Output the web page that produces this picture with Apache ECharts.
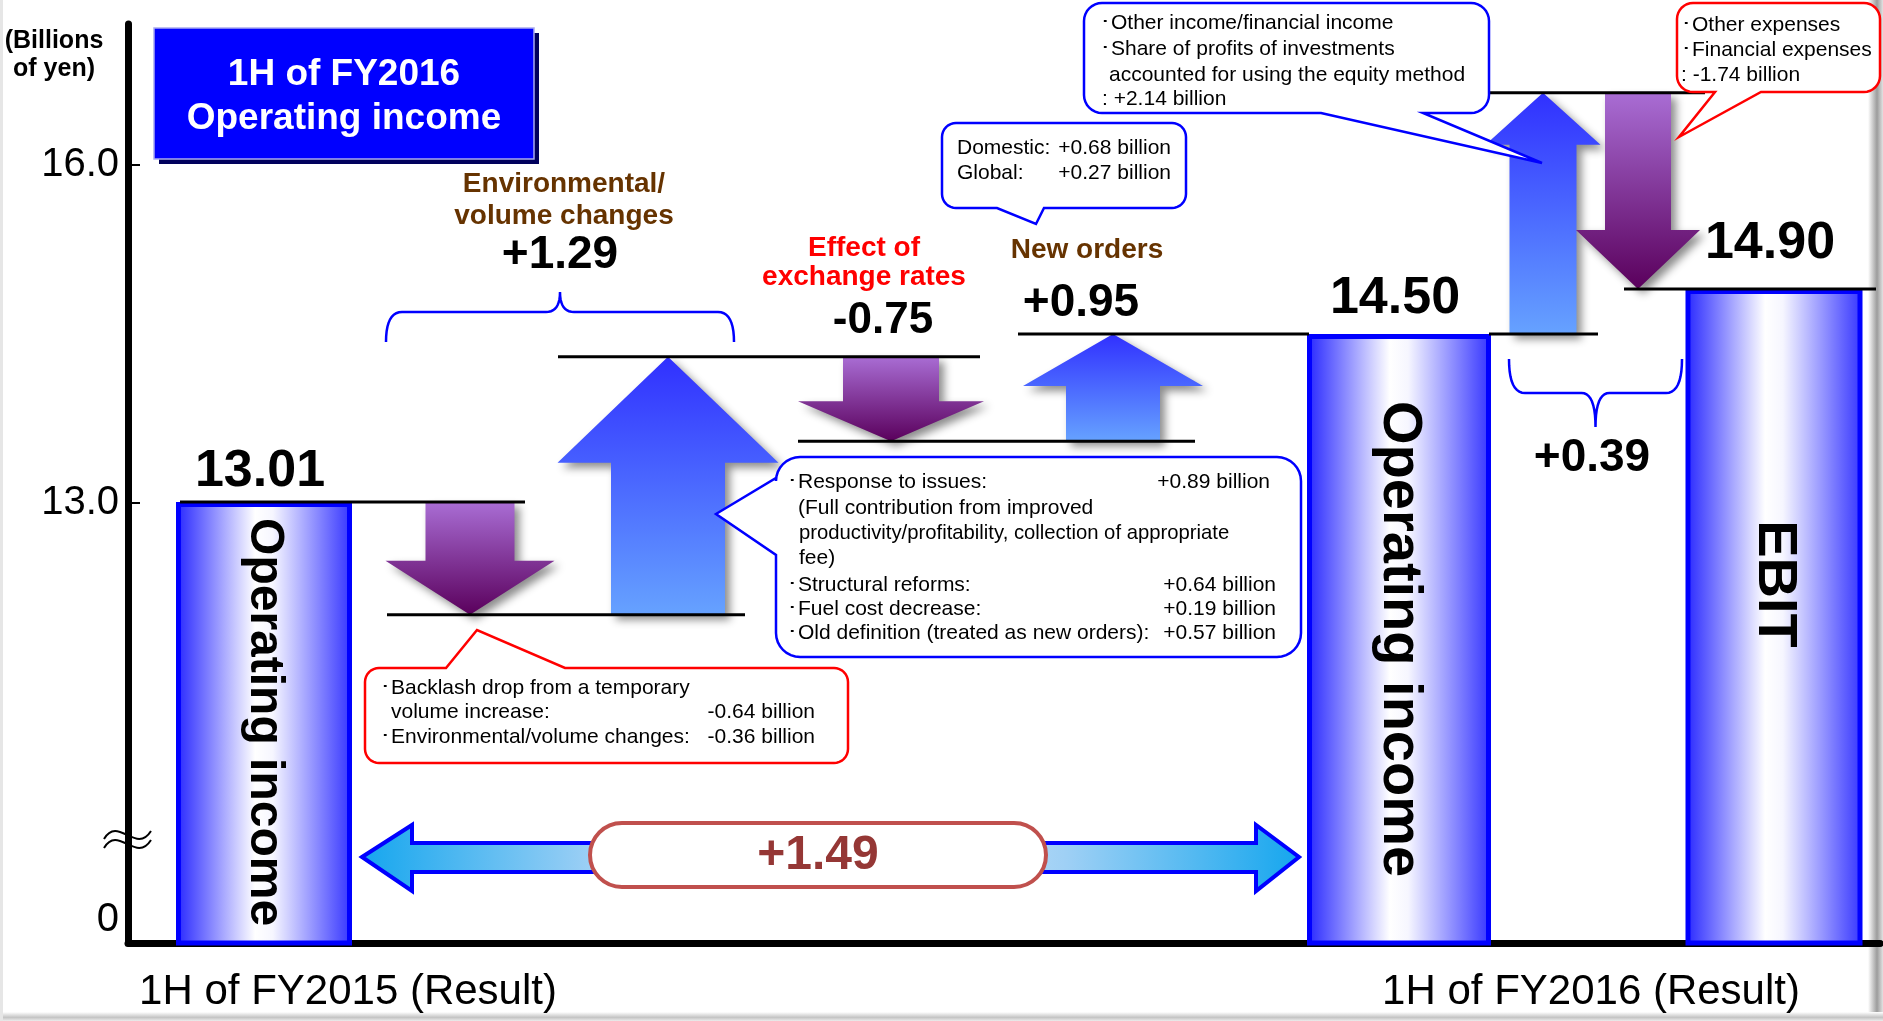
<!DOCTYPE html>
<html>
<head>
<meta charset="utf-8">
<title>1H of FY2016 Operating income</title>
<script src="https://cdn.jsdelivr.net/npm/echarts@6/dist/echarts.min.js"></script>
<style>
  html, body { margin: 0; padding: 0; background: #ffffff; }
  #chart { width: 1883px; height: 1021px; }
</style>
</head>
<body>
<div id="chart"></div>
<script>
// ---------- Data (billions of yen) ----------
const periodLabels = ['1H of FY2015 (Result)', '1H of FY2016 (Result)'];
const totalNames = ['Operating income', 'Operating income', 'EBIT'];
const totalValues = [13.01, 14.50, 14.90];
const backlashItems = [-0.64, -0.36];            // backlash drop, environmental/volume changes
const responseItems = [0.89, 0.64, 0.19, 0.57];  // response to issues, structural reforms, fuel cost, old definition
const exchangeRateItems = [-0.75];
const newOrderItems = [0.68, 0.27];              // domestic, global
const nonOperatingItems = [2.14, -1.74];         // other income, other expenses
const ebitChangeLabel = 0.39;
const yTickValues = [13.0, 16.0];

// ---------- Derived waterfall steps ----------
const sum = a => a.reduce((s, v) => s + v, 0);
const r2 = v => Math.round(v * 100) / 100;
const stepValues = [sum(backlashItems), sum(responseItems), sum(exchangeRateItems),
                    sum(newOrderItems), nonOperatingItems[0], nonOperatingItems[1]];
const levels = [totalValues[0]];
stepValues.forEach(v => levels.push(r2(levels[levels.length - 1] + v)));

// ---------- Layout (horizontal layout axis, 1 unit = 1 px inside the plot) ----------
const X_MAX = 1752;
const Y_MIN = 9.1, Y_MAX = 17.25;
const axisZeroAt = 9.3;                 // broken axis: "0" is printed just above the baseline
const totalSlot = [136, 1271, 1646];
const totalWidth = [176, 184, 177];
const totalTextOffset = [220, 305, 295];
const totalTextSize = [48, 56, 56];
const totalValueOffset = [-30, -35, -45];
const stepSlot = [342, 540, 763, 985, 1415, 1510];
const headW = [169, 221, 186, 180, 115, 124];
const shaftW = [89, 114, 96, 94, 67, 66];
const headH = [54, 106, 40, 52, 52, 59];
const connectorSpan = [[52, 397], [259, 617], [430, 852], [670, 1067], [890, 1181], [1361, 1470], [1358, 1577], [1496, 1748]];
const connectorLevel = [0, 1, 2, 3, 4, 4, 5, 6];
const periodSlot = [220, 1463];

const FF = "'Liberation Sans', Arial, Helvetica, sans-serif";
const fmtSigned = v => (v > 0 ? '+' : '') + v.toFixed(2);
const fmtBillion = v => fmtSigned(v) + ' billion';
const LG = echarts.graphic.LinearGradient;

// ---------- Annotation helpers ----------
function calloutPoints(x, y, w, h, r, side, ptr) {
  const pts = [];
  const arc = (cx, cy, a0, a1) => {
    for (let k = 0; k <= 8; k++) {
      const a = a0 + (a1 - a0) * k / 8;
      pts.push([cx + r * Math.cos(a), cy + r * Math.sin(a)]);
    }
  };
  arc(x + r, y + r, Math.PI, 1.5 * Math.PI);
  if (side === 'top') pts.push(...ptr);
  arc(x + w - r, y + r, -0.5 * Math.PI, 0);
  if (side === 'right') pts.push(...ptr);
  arc(x + w - r, y + h - r, 0, 0.5 * Math.PI);
  if (side === 'bottom') pts.push(...ptr);
  arc(x + r, y + h - r, 0.5 * Math.PI, Math.PI);
  if (side === 'left') pts.push(...ptr);
  return pts;
}
function callout(x, y, w, h, r, side, ptr, color) {
  return {
    type: 'polygon', z: 100,
    shape: { points: calloutPoints(x, y, w, h, r, side, ptr) },
    style: { fill: '#ffffff', stroke: color, lineWidth: 2.5 }
  };
}
function quad(p0, c, p1, n, out) {
  for (let k = 1; k <= n; k++) {
    const t = k / n, u = 1 - t;
    out.push([u * u * p0[0] + 2 * u * t * c[0] + t * t * p1[0], u * u * p0[1] + 2 * u * t * c[1] + t * t * p1[1]]);
  }
}
// Curly brace: ends at yEnd, bar at yBar, tip at yTip
function brace(x1, x2, yEnd, yBar, yTip, color) {
  const xm = (x1 + x2) / 2, rr = 16, tr = 14;
  const pts = [[x1, yEnd]];
  quad([x1, yEnd], [x1, yBar], [x1 + rr, yBar], 10, pts);
  pts.push([xm - tr, yBar]);
  quad([xm - tr, yBar], [xm, yBar], [xm, yTip], 10, pts);
  quad([xm, yTip], [xm, yBar], [xm + tr, yBar], 10, pts);
  pts.push([x2 - rr, yBar]);
  quad([x2 - rr, yBar], [x2, yBar], [x2, yEnd], 10, pts);
  return { type: 'polyline', z: 50, shape: { points: pts }, style: { stroke: color, lineWidth: 2.5, fill: null } };
}
function txt(x, y, text, o) {
  return {
    type: 'text', x: x, y: y, z: o.z || 110,
    style: {
      text: text, fill: o.color || '#000', fontFamily: FF,
      fontSize: o.size || 21, fontWeight: o.weight || 'normal',
      align: o.align || 'left', verticalAlign: 'middle', lineHeight: o.lh
    }
  };
}
const B = '\uFF65';

// ---------- Annotation elements ----------
const graphics = [
  // page edge shading
  { type: 'rect', z: 0, shape: { x: 1868, y: 0, width: 15, height: 1021 },
    style: { fill: new LG(0, 0, 1, 0, [{ offset: 0, color: '#ffffff' }, { offset: 0.6, color: '#9c9c9c' }, { offset: 1, color: '#e2e2e2' }]) } },
  { type: 'rect', z: 0, shape: { x: 0, y: 1012, width: 1883, height: 9 },
    style: { fill: new LG(0, 0, 0, 1, [{ offset: 0, color: '#ffffff' }, { offset: 0.6, color: '#c4c4c4' }, { offset: 1, color: '#ececec' }]) } },
  { type: 'rect', z: 0, shape: { x: 0, y: 0, width: 3, height: 1021 }, style: { fill: '#e6e6e6' } },

  // unit label
  txt(54, 55, '(Billions\nof yen)', { size: 25, weight: 'bold', align: 'center', lh: 28 }),

  // title box
  { type: 'rect', z: 20, shape: { x: 159, y: 33, width: 380, height: 131 }, style: { fill: '#00005c' } },
  { type: 'rect', z: 21, shape: { x: 154, y: 28, width: 380, height: 131 }, style: { fill: '#0000ff', stroke: '#a9abf0', lineWidth: 1.5 } },
  txt(344, 97, '1H of FY2016\nOperating income', { size: 37, weight: 'bold', color: '#ffffff', align: 'center', lh: 44, z: 22 }),

  // step headings and values
  txt(564, 200, 'Environmental/\nvolume changes', { size: 28, weight: 'bold', color: '#663300', align: 'center', lh: 32 }),
  txt(560, 255, fmtSigned(r2(stepValues[0] + stepValues[1])), { size: 46, weight: 'bold', align: 'center' }),
  txt(864, 263, 'Effect of\nexchange rates', { size: 28, weight: 'bold', color: '#ff0000', align: 'center', lh: 29 }),
  txt(883, 321, fmtSigned(stepValues[2]), { size: 44, weight: 'bold', align: 'center' }),
  txt(1087, 250, 'New orders', { size: 28, weight: 'bold', color: '#663300', align: 'center' }),
  txt(1081, 303, fmtSigned(r2(stepValues[3])), { size: 46, weight: 'bold', align: 'center' }),
  txt(1592, 458, fmtSigned(ebitChangeLabel), { size: 46, weight: 'bold', align: 'center' }),

  // braces
  brace(386, 734, 342, 312, 292, '#0000ff'),
  brace(1509, 1682, 359, 393, 427, '#0000ff'),

  // broken-axis mark
  { type: 'bezierCurve', z: 60, shape: { x1: 104, y1: 839, cpx1: 118, cpy1: 815, cpx2: 136, cpy2: 855, x2: 151, y2: 831 },
    style: { stroke: '#000', lineWidth: 2, fill: null } },
  { type: 'bezierCurve', z: 60, shape: { x1: 104, y1: 848, cpx1: 118, cpy1: 824, cpx2: 136, cpy2: 864, x2: 151, y2: 840 },
    style: { stroke: '#000', lineWidth: 2, fill: null } },

  // change between the two operating income totals
  { type: 'polygon', z: 60,
    shape: { points: [[362, 857], [412, 825], [412, 843], [1256, 843], [1256, 825], [1299, 857], [1256, 891], [1256, 872], [412, 872], [412, 891]] },
    style: { stroke: '#0000ff', lineWidth: 4,
      fill: new LG(0, 0, 1, 0, [{ offset: 0, color: '#14a6ee' }, { offset: 0.25, color: '#9fd0f5' }, { offset: 0.5, color: '#eaf4fd' },
                                { offset: 0.75, color: '#9fd0f5' }, { offset: 1, color: '#14a6ee' }]) } },
  { type: 'rect', z: 61, shape: { x: 590, y: 823, width: 456, height: 64, r: 32 },
    style: { fill: '#ffffff', stroke: '#c0504d', lineWidth: 4 } },
  txt(818, 856, fmtSigned(r2(totalValues[1] - totalValues[0])), { size: 48, weight: 'bold', color: '#953735', align: 'center', z: 62 }),

  // callout: backlash / environmental
  callout(365, 668, 483, 95, 14, 'top', [[446, 668], [477, 630], [565, 668]], '#ff0000'),
  txt(380, 688, B + 'Backlash drop from a temporary', {}),
  txt(391, 712, 'volume increase:', {}),
  txt(815, 712, fmtBillion(backlashItems[0]), { align: 'right' }),
  txt(380, 737, B + 'Environmental/volume changes:', {}),
  txt(815, 737, fmtBillion(backlashItems[1]), { align: 'right' }),

  // callout: improvements
  callout(776, 457, 525, 200, 24, 'left', [[776, 555], [716, 514], [776, 478]], '#0000ff'),
  txt(787, 482, B + 'Response to issues:', {}),
  txt(1270, 482, fmtBillion(responseItems[0]), { align: 'right' }),
  txt(798, 508, '(Full contribution from improved', {}),
  txt(799, 533, 'productivity/profitability, collection of appropriate', { size: 20.3 }),
  txt(799, 558, 'fee)', {}),
  txt(787, 585, B + 'Structural reforms:', {}),
  txt(1276, 585, fmtBillion(responseItems[1]), { align: 'right' }),
  txt(787, 609, B + 'Fuel cost decrease:', {}),
  txt(1276, 609, fmtBillion(responseItems[2]), { align: 'right' }),
  txt(787, 633, B + 'Old definition (treated as new orders):', {}),
  txt(1276, 633, fmtBillion(responseItems[3]), { align: 'right' }),

  // callout: new orders split
  callout(942, 123, 244, 85, 14, 'bottom', [[1044, 208], [1036, 224], [997, 208]], '#0000ff'),
  txt(957, 148, 'Domestic:', {}),
  txt(1171, 148, fmtBillion(newOrderItems[0]), { align: 'right' }),
  txt(957, 173, 'Global:', {}),
  txt(1171, 173, fmtBillion(newOrderItems[1]), { align: 'right' }),

  // callout: other income
  callout(1084, 3, 405, 110, 18, 'bottom', [[1423, 113], [1542, 163], [1321, 113]], '#0000ff'),
  txt(1100, 23, B + 'Other income/financial income', {}),
  txt(1100, 49, B + 'Share of profits of investments', {}),
  txt(1109, 75, 'accounted for using the equity method', {}),
  txt(1102, 99, ': ' + fmtBillion(nonOperatingItems[0]), {}),

  // callout: other expenses
  callout(1677, 3, 203, 89, 16, 'bottom', [[1761, 92], [1679, 137], [1715, 92]], '#ff0000'),
  txt(1681, 25, B + 'Other expenses', {}),
  txt(1681, 50, B + 'Financial expenses', {}),
  txt(1681, 75, ': ' + fmtBillion(nonOperatingItems[1]), {})
];

// ---------- Series ----------
const barFill = () => new LG(0, 0, 1, 0, [
  { offset: 0, color: '#2626ff' }, { offset: 0.45, color: '#ffffff' },
  { offset: 0.55, color: '#f6f6ff' }, { offset: 1, color: '#3434ff' }
]);
const arrowShadow = { shadowBlur: 8, shadowOffsetX: 5, shadowOffsetY: 5, shadowColor: 'rgba(0,0,0,0.45)' };

const totalsSeries = {
  type: 'custom', name: 'Totals', z: 3,
  data: totalValues.map((v, i) => [totalSlot[i], v, i]),
  encode: { x: 0, y: 1 },
  renderItem(params, api) {
    const i = api.value(2), v = api.value(1);
    const top = api.coord([api.value(0), v]);
    const base = api.coord([api.value(0), Y_MIN]);
    const w = totalWidth[i] - 5;
    return {
      type: 'group',
      children: [
        { type: 'rect', shape: { x: top[0] - w / 2, y: top[1] + 2.5, width: w, height: base[1] - top[1] - 2.5 },
          style: { fill: barFill(), stroke: '#0000ff', lineWidth: 5 } },
        { type: 'text', x: top[0], y: top[1] + totalTextOffset[i], rotation: -Math.PI / 2,
          style: { text: totalNames[i], fontFamily: FF, fontSize: totalTextSize[i], fontWeight: 'bold', fill: '#000',
                   align: 'center', verticalAlign: 'middle' } },
        { type: 'text', x: top[0] - 4, y: top[1] + totalValueOffset[i],
          style: { text: v.toFixed(2), fontFamily: FF, fontSize: 52, fontWeight: 'bold', fill: '#000',
                   align: 'center', verticalAlign: 'middle' } }
      ]
    };
  }
};

const stepsSeries = {
  type: 'custom', name: 'Changes', z: 3,
  data: stepValues.map((v, i) => [stepSlot[i], levels[i], levels[i + 1], i]),
  encode: { x: 0, y: [1, 2] },
  renderItem(params, api) {
    const i = api.value(3);
    const p0 = api.coord([api.value(0), api.value(1)]);
    const p1 = api.coord([api.value(0), api.value(2)]);
    const cx = p0[0], yS = p0[1], yT = p1[1];
    const up = yT < yS;
    const hb = up ? yT + headH[i] : yT - headH[i];
    const sw = shaftW[i] / 2, hw = headW[i] / 2;
    const fill = up
      ? new LG(0, 0, 0, 1, [{ offset: 0, color: '#3030ff' }, { offset: 1, color: '#66a2ff' }])
      : new LG(0, 0, 0, 1, [{ offset: 0, color: '#a96dd4' }, { offset: 1, color: '#5a005c' }]);
    return {
      type: 'polygon',
      shape: { points: [[cx - sw, yS], [cx + sw, yS], [cx + sw, hb], [cx + hw, hb], [cx, yT], [cx - hw, hb], [cx - sw, hb]] },
      style: Object.assign({ fill: fill }, arrowShadow)
    };
  }
};

const connectorSeries = {
  type: 'custom', name: 'Levels', z: 4,
  data: connectorSpan.map((s, k) => [s[0], s[1], levels[connectorLevel[k]]]),
  encode: { x: [0, 1], y: 2 },
  renderItem(params, api) {
    const a = api.coord([api.value(0), api.value(2)]);
    const b = api.coord([api.value(1), api.value(2)]);
    return { type: 'line', shape: { x1: a[0], y1: a[1], x2: b[0], y2: b[1] }, style: { stroke: '#000', lineWidth: 3 } };
  }
};

// ---------- Chart ----------
const chart = echarts.init(document.getElementById('chart'), null, { renderer: 'canvas' });
chart.setOption({
  animation: false,
  backgroundColor: '#ffffff',
  grid: { left: 128, right: 3, top: 24, bottom: 78, containLabel: false, outerBoundsMode: 'none' },
  xAxis: {
    type: 'value', min: 0, max: X_MAX,
    axisLine: { show: true, onZero: false, lineStyle: { color: '#000', width: 7 } },
    axisTick: { show: false },
    splitLine: { show: false },
    axisLabel: {
      customValues: periodSlot,
      formatter: v => periodLabels[periodSlot.indexOf(v)],
      fontFamily: FF, fontSize: 42, color: '#000', margin: 28
    }
  },
  yAxis: {
    type: 'value', min: Y_MIN, max: Y_MAX,
    axisLine: { show: true, lineStyle: { color: '#000', width: 7 } },
    axisTick: { show: true, inside: true, length: 12, customValues: yTickValues, lineStyle: { color: '#000', width: 2 } },
    splitLine: { show: false },
    axisLabel: {
      customValues: [axisZeroAt].concat(yTickValues),
      formatter: v => (v === axisZeroAt ? '0' : v.toFixed(1)),
      fontFamily: FF, fontSize: 40, color: '#000', margin: 9
    }
  },
  series: [totalsSeries, stepsSeries, connectorSeries],
  graphic: { elements: graphics }
});
</script>
</body>
</html>
